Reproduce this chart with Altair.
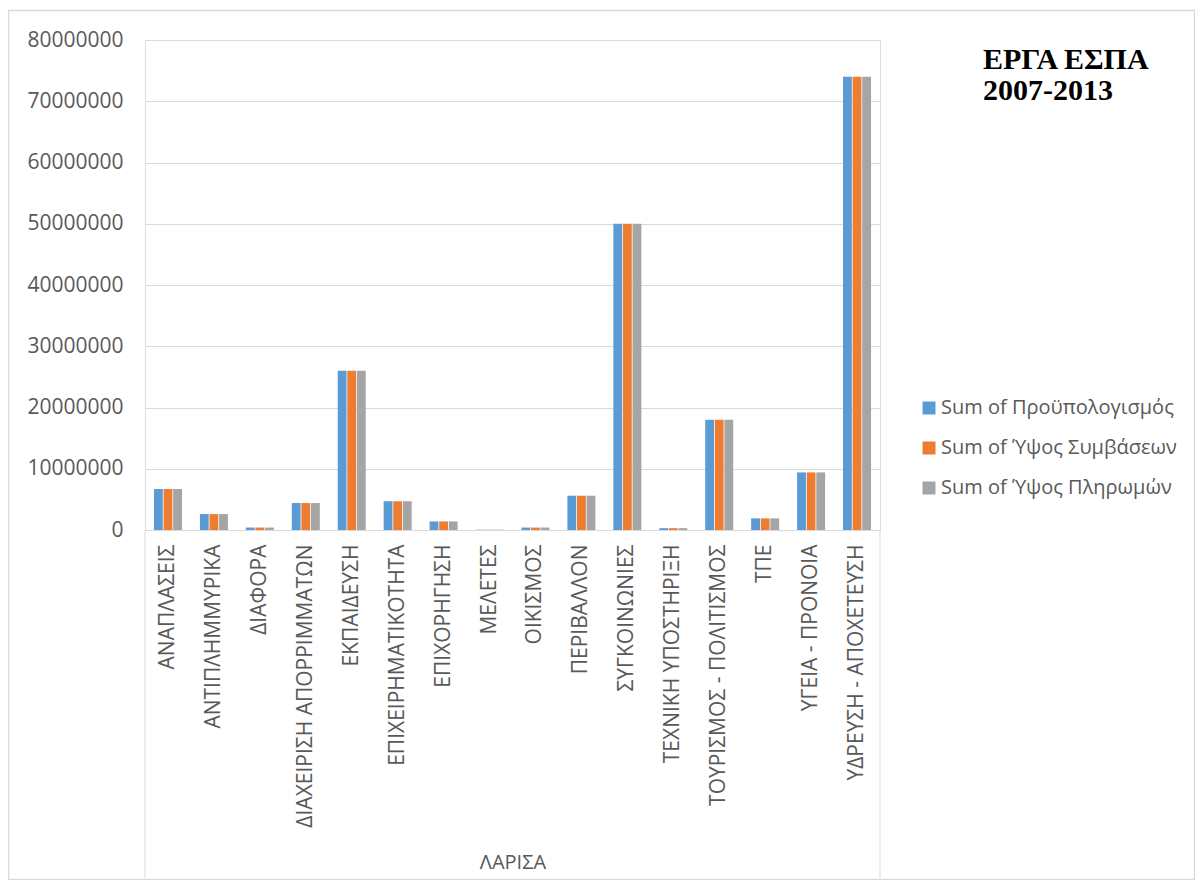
import altair as alt
import pandas as pd

categories = ["ΑΝΑΠΛΑΣΕΙΣ", "ΑΝΤΙΠΛΗΜΜΥΡΙΚΑ", "ΔΙΑΦΟΡΑ", "ΔΙΑΧΕΙΡΙΣΗ ΑΠΟΡΡΙΜΜΑΤΩΝ",
              "ΕΚΠΑΙΔΕΥΣΗ", "ΕΠΙΧΕΙΡΗΜΑΤΙΚΟΤΗΤΑ", "ΕΠΙΧΟΡΗΓΗΣΗ", "ΜΕΛΕΤΕΣ", "ΟΙΚΙΣΜΟΣ",
              "ΠΕΡΙΒΑΛΛΟΝ", "ΣΥΓΚΟΙΝΩΝΙΕΣ", "ΤΕΧΝΙΚΗ ΥΠΟΣΤΗΡΙΞΗ", "ΤΟΥΡΙΣΜΟΣ - ΠΟΛΙΤΙΣΜΟΣ",
              "ΤΠΕ", "ΥΓΕΙΑ - ΠΡΟΝΟΙΑ", "ΥΔΡΕΥΣΗ - ΑΠΟΧΕΤΕΥΣΗ"]
series = ["Sum of Προϋπολογισμός", "Sum of Ύψος Συμβάσεων", "Sum of Ύψος Πληρωμών"]
budget = [6700000, 2600000, 400000, 4400000, 26000000, 4700000, 1400000, 50000, 400000,
          5600000, 50000000, 300000, 18000000, 1900000, 9400000, 74000000]
contracts = [6700000, 2600000, 400000, 4400000, 26000000, 4700000, 1400000, 50000, 400000,
             5600000, 50000000, 300000, 18000000, 1900000, 9400000, 74000000]
payments = [6700000, 2600000, 400000, 4400000, 26000000, 4700000, 1400000, 50000, 400000,
            5600000, 50000000, 300000, 18000000, 1900000, 9400000, 74000000]
colors = ["#5B9BD5", "#ED7D31", "#A5A5A5"]
y_ticks = [0, 10000000, 20000000, 30000000, 40000000, 50000000, 60000000, 70000000, 80000000]
title_lines = ["ΕΡΓΑ ΕΣΠΑ", "2007-2013"]
group_label = "ΛΑΡΙΣΑ"

rows = []
for vals, s in zip([budget, contracts, payments], series):
    for c, v in zip(categories, vals):
        rows.append({"cat": c, "series": s, "value": v})
df = pd.DataFrame(rows)

W, H = 735, 490
FONT = "Open Sans"
GRAY = "#595959"
LINE = "#d9d9d9"

bars = alt.Chart(df).mark_bar().encode(
    x=alt.X("cat:N", sort=categories, title=group_label,
            scale=alt.Scale(paddingInner=0.39, paddingOuter=0.195),
            axis=alt.Axis(labelAngle=-90, labelAlign="right", labelBaseline="middle",
                          labelPadding=14, ticks=False, domainColor=LINE, labelLimit=0,
                          labelFontSize=21, labelColor=GRAY, labelFont=FONT,
                          titleFontSize=20, titleFont=FONT, titleColor=GRAY,
                          titleFontWeight="normal", titleY=332, titleBaseline="middle")),
    xOffset=alt.XOffset("series:N", sort=series, scale=alt.Scale(paddingInner=0.08)),
    y=alt.Y("value:Q", title=None,
            scale=alt.Scale(domain=[0, 80000000], nice=False),
            axis=alt.Axis(values=y_ticks, format="d", domain=False, ticks=False,
                          gridColor=LINE, labelPadding=22, labelFontSize=21,
                          labelColor=GRAY, labelFont=FONT)),
    color=alt.Color("series:N", sort=series, title=None,
                    scale=alt.Scale(domain=series, range=colors),
                    legend=alt.Legend(orient="none", legendX=774, legendY=358,
                                      symbolType="square", symbolSize=169,
                                      symbolStrokeWidth=0, labelOffset=2, labelLimit=0,
                                      labelFontSize=20, labelColor=GRAY, labelFont=FONT,
                                      rowPadding=20, padding=0)),
)

one = pd.DataFrame({"k": [0]})
left_rule = alt.Chart(one).mark_rule(color=LINE, strokeWidth=1).encode(
    x=alt.value(0), y=alt.value(H), y2=alt.value(H + 348))
right_rule = alt.Chart(one).mark_rule(color=LINE, strokeWidth=1).encode(
    x=alt.value(W), y=alt.value(H), y2=alt.value(H + 348))
frame = alt.Chart(one).mark_rect(fill=None, stroke=LINE, strokeWidth=1.5).encode(
    x=alt.value(-136.5), x2=alt.value(1049.5), y=alt.value(-29.5), y2=alt.value(839.5))
title = alt.Chart(one).mark_text(text=title_lines, font="Liberation Serif", fontSize=30,
                                 fontWeight="bold", align="left", baseline="alphabetic",
                                 lineHeight=31, color="#000000").encode(
    x=alt.value(838), y=alt.value(29))

chart = alt.layer(frame, bars, left_rule, right_rule, title).properties(
    width=W, height=H,
    autosize=alt.AutoSizeParams(type="none"),
    padding={"left": 137, "top": 32, "right": 315, "bottom": 350},
).configure_view(stroke=None).configure(background="white")

chart.save("out.html", embed_options={"renderer": "svg", "actions": False})
